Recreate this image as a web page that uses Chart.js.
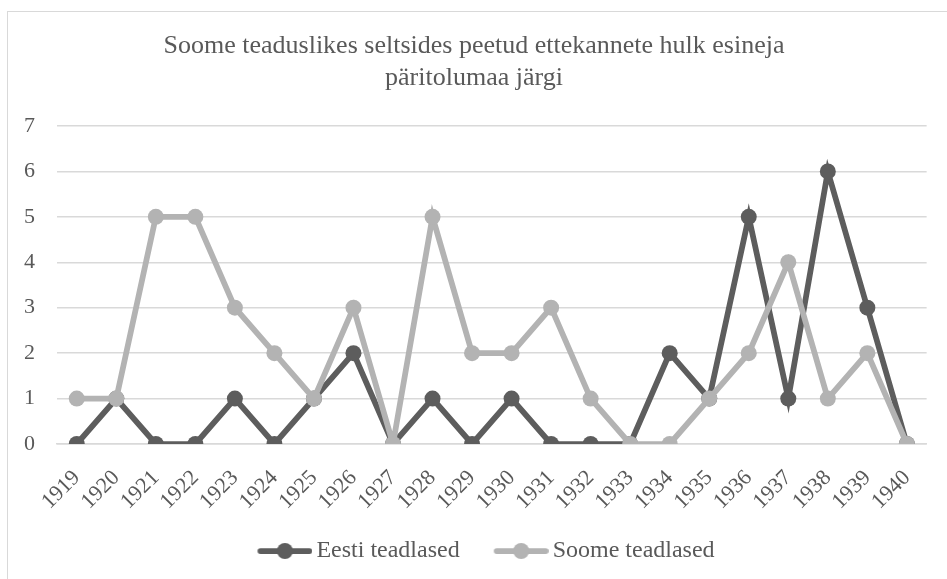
<!DOCTYPE html>
<html>
<head>
<meta charset="utf-8">
<script src="https://cdn.jsdelivr.net/npm/chart.js@4.4.1/dist/chart.umd.min.js"></script>
<style>
  html, body { margin: 0; padding: 0; background: #fff; overflow: hidden; }
  #wrap { position: relative; width: 947px; height: 579px; }
  #frame { position: absolute; left: 7px; top: 11px; width: 1000px; height: 1000px; border: 1px solid #d9d9d9; }
  #mycanvas { position: absolute; left: 0; top: 0; }
</style>
</head>
<body>
<div id="wrap">
  <div id="frame"></div>
  <canvas id="mycanvas" width="947" height="579"></canvas>
</div>
<script>
// aastad
var years = ["1919","1920","1921","1922","1923","1924","1925","1926","1927","1928","1929",
             "1930","1931","1932","1933","1934","1935","1936","1937","1938","1939","1940"];
var eesti = [0,1,0,0,1,0,1,2,0,1,0,1,0,0,0,2,1,5,1,6,3,0];
var soome = [1,1,5,5,3,2,1,3,0,5,2,2,3,1,0,0,1,2,4,1,2,0];
var yTicks = [0,1,2,3,4,5,6,7];

var darkGray = "#5d5d5d";
var lightGray = "#b3b3b3";
var textColor = "#595959";
var serif = "'Liberation Serif', 'Times New Roman', serif";

// legend marker: line with a dot on it; left part of the canvas is empty
// so the marker sits close to its text and far from the previous item
function legendMark(color) {
  var c = document.createElement("canvas");
  c.width = 87; c.height = 18;
  var g = c.getContext("2d");
  var o = 32;
  g.strokeStyle = color;
  g.lineWidth = 5.75;
  g.lineCap = "round";
  g.beginPath();
  g.moveTo(o + 3, 9); g.lineTo(o + 52, 9);
  g.stroke();
  g.fillStyle = color;
  g.beginPath();
  g.arc(o + 27.5, 9, 8, 0, Math.PI * 2);
  g.fill();
  return c;
}
var marks = [legendMark(darkGray), legendMark(lightGray)];

var chartdata = {
  labels: years,
  datasets: [
    {
      label: "Eesti teadlased",
      data: eesti,
      borderColor: darkGray,
      backgroundColor: darkGray,
      borderWidth: 5.75,
      pointRadius: 8,
      pointHoverRadius: 8,
      pointBorderWidth: 0,
      fill: false,
      order: 1
    },
    {
      label: "Soome teadlased",
      data: soome,
      borderColor: lightGray,
      backgroundColor: lightGray,
      borderWidth: 5.75,
      pointRadius: 8,
      pointHoverRadius: 8,
      pointBorderWidth: 0,
      fill: false,
      order: 0
    }
  ]
};

var ctx = document.getElementById("mycanvas");

var LineGraph = new Chart(ctx, {
  type: "line",
  data: chartdata,
  options: {
    responsive: false,
    animation: false,
    layout: { padding: { left: 21, right: 20, top: 30, bottom: 6 } },
    plugins: {
      title: {
        display: true,
        text: ["Soome teaduslikes seltsides peetud ettekannete hulk esineja", "päritolumaa järgi"],
        color: textColor,
        font: { family: serif, size: 26, weight: "normal", lineHeight: 1.23 },
        padding: { top: 0, bottom: 32 }
      },
      legend: {
        position: "bottom",
        labels: {
          color: textColor,
          font: { family: serif, size: 24 },
          usePointStyle: true,
          pointStyleWidth: 71,
          padding: 10,
          sort: function(a, b) { return a.datasetIndex - b.datasetIndex; },
          generateLabels: function(chart) {
            var items = Chart.defaults.plugins.legend.labels.generateLabels(chart);
            items.forEach(function(it) { it.pointStyle = marks[it.datasetIndex]; });
            return items;
          }
        }
      },
      tooltip: { enabled: false }
    },
    scales: {
      x: {
        offset: true,
        afterFit: function(axis) { axis.height = 85; },
        grid: { display: false, drawTicks: false },
        border: { display: true, color: "#d9d9d9", width: 1.5 },
        ticks: {
          color: textColor,
          font: { family: serif, size: 22 },
          minRotation: 45,
          maxRotation: 45,
          padding: 21,
          autoSkip: false
        }
      },
      y: {
        min: 0,
        max: 7,
        afterFit: function(axis) { axis.width = 36; },
        afterBuildTicks: function(axis) {
          axis.ticks = yTicks.map(function(v) { return { value: v }; });
        },
        grid: { color: "#d9d9d9", lineWidth: 1.5, drawTicks: false },
        border: { display: false },
        ticks: {
          color: textColor,
          font: { family: serif, size: 22 },
          padding: 22
        }
      }
    }
  }
});
</script>
</body>
</html>
